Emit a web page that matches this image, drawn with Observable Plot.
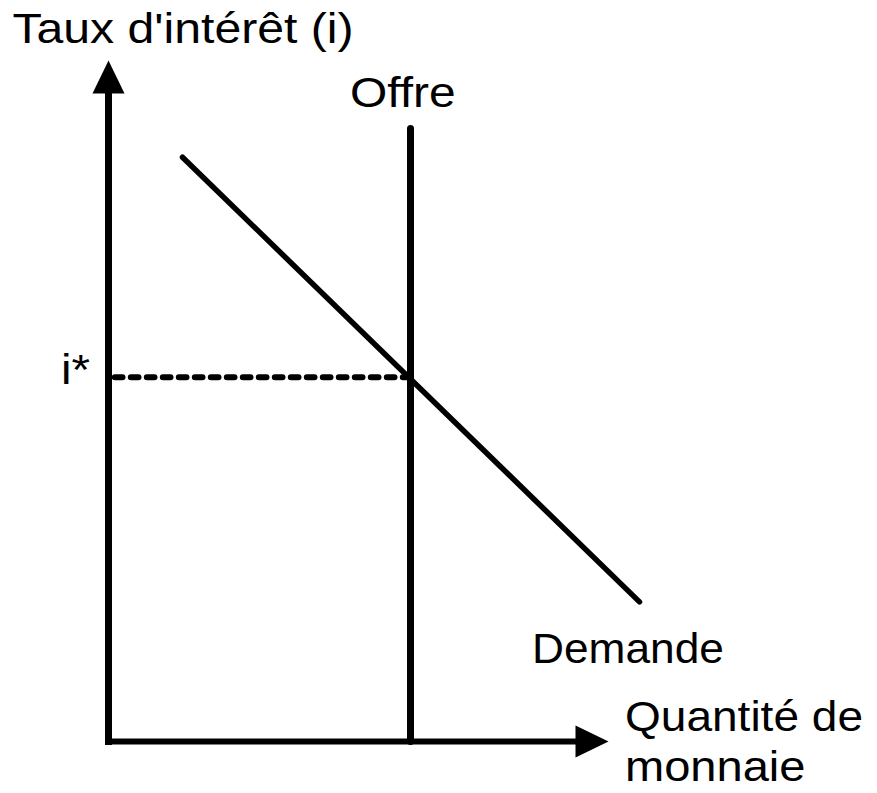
<!DOCTYPE html>
<html>
<head>
<meta charset="utf-8">
<script src="https://cdn.jsdelivr.net/npm/d3@7"></script>
<script src="https://cdn.jsdelivr.net/npm/@observablehq/plot@0.6"></script>
<style>
  html, body { margin: 0; padding: 0; background: #fff; }
  #chart svg { display: block; }
</style>
</head>
<body>
<div id="chart"></div>
<script>
// ---- Data (model units: quantity of money, interest rate) ----
const axisQuantity = [0, 10];          // x axis: origin to arrow tip
const axisRate = [0, 10];              // y axis: origin to arrow tip
const supplyQuantity = [6.04, 6.04];   // vertical money supply ("Offre")
const supplyRate = [0, 9.0];
const demandQuantity = [1.48, 10.62];  // downward-sloping money demand ("Demande")
const demandRate = [8.58, 2.05];
const equilibriumRate = 5.35;          // i*
const labels = ["Taux d'intérêt (i)", "Offre", "i*", "Demande", "Quantité de", "monnaie"];

// ---- Layout (positions / sizes / styles) ----
const W = 877, H = 793;
const xRange = [108, 608], yRange = [741, 60];
const arrowW = 32, arrowH = 33;
const pxPerX = (xRange[1] - xRange[0]) / (axisQuantity[1] - axisQuantity[0]);
const pxPerY = (yRange[0] - yRange[1]) / (axisRate[1] - axisRate[0]);
const xAxisEnd = axisQuantity[1] - 20 / pxPerX;
const yAxisEnd = axisRate[1] - 20 / pxPerY;
// label anchor [x, y (baseline), target text length px]
const labelLayout = [
  [-1.92, 10.25, 341],
  [4.83, 9.314, 105.6],
  [-0.952, 5.253, 29],
  [8.47, 1.16, 192],
  [10.33, 0.1615, 238],
  [10.33, -0.573, 180.5]
];
const font = "'Liberation Sans', Arial, Helvetica, sans-serif";

const arrowSymbol = {
  draw(ctx) {
    ctx.moveTo(0, 0);
    ctx.lineTo(-arrowW / 2, arrowH);
    ctx.lineTo(arrowW / 2, arrowH);
    ctx.closePath();
  }
};

const chart = Plot.plot({
  width: W,
  height: H,
  margin: 0,
  style: { background: "#fff", color: "#000", overflow: "visible" },
  x: { domain: axisQuantity, range: xRange, axis: null },
  y: { domain: axisRate, range: yRange, axis: null },
  marks: [
    // y axis
    Plot.line([0, 1], { x: [axisQuantity[0], axisQuantity[0]], y: [axisRate[0], yAxisEnd],
      stroke: "#000", strokeWidth: 7, strokeLinecap: "square" }),
    // x axis
    Plot.line([0, 1], { x: [axisQuantity[0], xAxisEnd], y: [axisRate[0], axisRate[0]],
      stroke: "#000", strokeWidth: 6, strokeLinecap: "square" }),
    // arrowheads
    Plot.dot([0], { x: [axisQuantity[0]], y: [axisRate[1]], symbol: arrowSymbol, r: 5,
      fill: "#000", stroke: "none" }),
    Plot.dot([0], { x: [axisQuantity[1]], y: [axisRate[0]], symbol: arrowSymbol, r: 5,
      rotate: 90, fill: "#000", stroke: "none" }),
    // dashed i* line
    Plot.line([0, 1], { x: [axisQuantity[0], supplyQuantity[0]], y: [equilibriumRate, equilibriumRate],
      stroke: "#000", strokeWidth: 6, strokeDasharray: "7.7 8.3", strokeDashoffset: 9.7 }),
    // supply
    Plot.line(supplyQuantity, { x: supplyQuantity, y: supplyRate,
      stroke: "#000", strokeWidth: 7 }),
    // demand
    Plot.line(demandQuantity, { x: demandQuantity, y: demandRate,
      stroke: "#000", strokeWidth: 5.5 }),
    // labels
    Plot.text(labels, {
      x: labelLayout.map(d => d[0]),
      y: labelLayout.map(d => d[1]),
      text: labels,
      textAnchor: "start",
      lineAnchor: "bottom",
      fontSize: 43,
      fontFamily: font,
      fill: "#000"
    })
  ]
});

document.getElementById("chart").appendChild(chart);

// stretch labels horizontally to the reference widths
const svgEl = chart.tagName.toLowerCase() === "svg" ? chart : chart.querySelector("svg");
d3.select(svgEl).selectAll("g[aria-label='text'] text").each(function(_, i) {
  const target = labelLayout[i] && labelLayout[i][2];
  if (target) {
    this.setAttribute("textLength", target);
    this.setAttribute("lengthAdjust", "spacingAndGlyphs");
  }
});
</script>
</body>
</html>
